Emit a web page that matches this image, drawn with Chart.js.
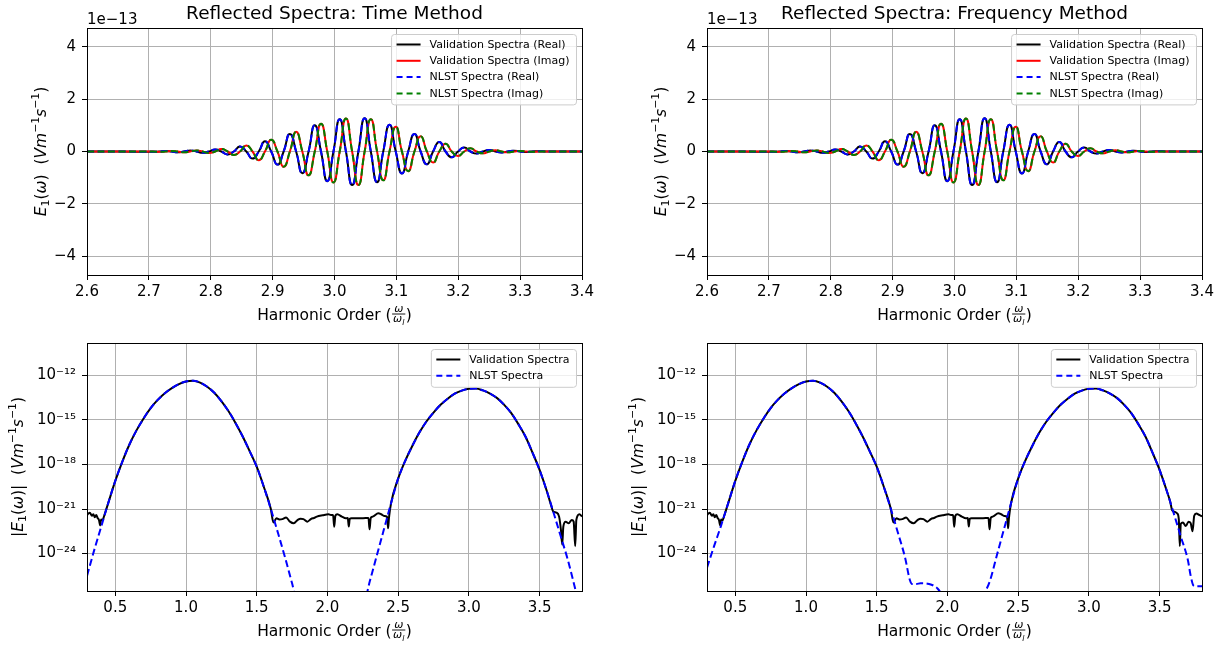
<!DOCTYPE html>
<html>
<head>
<meta charset="utf-8">
<script src="https://cdn.jsdelivr.net/npm/chart.js@4.4.1/dist/chart.umd.min.js"></script>
<style>
html,body{margin:0;padding:0;background:#fff;}
body{width:1225px;height:647px;position:relative;overflow:hidden;}
canvas{position:absolute;}
</style>
</head>
<body>
<canvas id="c1" width="612" height="330" style="left:0px;top:0px"></canvas>
<canvas id="c2" width="605" height="330" style="left:620px;top:0px"></canvas>
<canvas id="c3" width="612" height="332" style="left:0px;top:315px"></canvas>
<canvas id="c4" width="605" height="332" style="left:620px;top:315px"></canvas>
<script>
// ---------------- DATA (top panels, units of 1e-13) ----------------
const harmonicX = [2.6, 2.65, 2.7065, 2.7166, 2.7266, 2.7367, 2.7468, 2.7568, 2.7669, 2.7770, 2.7870, 2.7971,
  2.8071, 2.8172, 2.8273, 2.8373, 2.8474, 2.8575, 2.8675, 2.8776, 2.8876, 2.8977, 2.9078, 2.9178,
  2.9279, 2.9380, 2.9480, 2.9581, 2.9681, 2.9782, 2.9883, 2.9983, 3.0084, 3.0185, 3.0285, 3.0386,
  3.0487, 3.0587, 3.0688, 3.0788, 3.0889, 3.0990, 3.1090, 3.1191, 3.1292, 3.1392, 3.1493, 3.1593,
  3.1694, 3.1795, 3.1895, 3.1996, 3.2097, 3.2197, 3.2298, 3.2398, 3.2499, 3.2600, 3.2700, 3.2801,
  3.2902, 3.3002, 3.3103, 3.3203, 3.3304, 3.3405, 3.3505, 3.4];
const validationReal = [0, 0,
  -0.01, 0, 0.02, 0, -0.03,
  0, 0.04, 0, -0.05, 0,
  0.08, 0, -0.11, 0, 0.19,
  0, -0.27, 0, 0.39, 0,
  -0.50, 0, 0.67, 0, -0.83,
  0, 1.00, 0, -1.13, 0,
  1.23, 0, -1.28, 0, 1.27,
  0, -1.17, 0, 1.02, 0,
  -0.84, 0, 0.67, 0, -0.49,
  0, 0.36, 0, -0.22, 0,
  0.15, 0, -0.08, 0, 0.06,
  0, -0.04, 0, 0.03, 0,
  -0.02, 0, 0.01, 0, 0,
  0];
const validationImag = [0, 0,
  0, -0.01, 0, 0.02, 0,
  -0.03, 0, 0.04, 0, -0.06,
  0, 0.10, 0, -0.13, 0,
  0.23, 0, -0.33, 0, 0.45,
  0, -0.58, 0, 0.75, 0,
  -0.91, 0, 1.06, 0, -1.18,
  0, 1.26, 0, -1.28, 0,
  1.23, 0, -1.10, 0, 0.94,
  0, -0.75, 0, 0.58, 0,
  -0.42, 0, 0.30, 0, -0.17,
  0, 0.12, 0, -0.07, 0,
  0.05, 0, -0.03, 0, 0.02,
  0, -0.01, 0, 0, 0,
  0];
// NLST reconstruction overlays the validation spectra in the picture
const nlstReal = validationReal;
const nlstImag = validationImag;

// ---------------- DATA (bottom panels, log10 of |E1|) ----------------
const valLeftNoiseX   = [0.30, 0.31, 0.32, 0.335, 0.345, 0.355, 0.365, 0.375, 0.385, 0.393, 0.40, 0.41, 0.42];
const valLeftNoiseLog = [-21.4, -21.3, -21.25, -21.45, -21.35, -21.55, -21.4, -21.6, -21.75, -22.1, -21.7, -21.75, -21.5];

const hump1CoreX   = [0.45, 0.50, 0.55, 0.60, 0.65, 0.70, 0.75, 0.80, 0.85, 0.90, 0.95, 1.00, 1.05, 1.10, 1.15, 1.20, 1.25, 1.30, 1.35, 1.40, 1.45, 1.50, 1.55, 1.60];
const hump1CoreLog = [-20.6, -19.1, -17.8, -16.65, -15.7, -14.9, -14.2, -13.65, -13.2, -12.85, -12.58, -12.41, -12.36, -12.48, -12.76, -13.17, -13.73, -14.4, -15.2, -16.1, -17.1, -18.15, -19.5, -21.0];

const valMidNoiseX   = [1.618, 1.64, 1.66, 1.681, 1.708, 1.735, 1.762, 1.79, 1.81, 1.83, 1.858, 1.885, 1.905, 1.925, 1.966, 2.007, 2.025, 2.04, 2.048, 2.056, 2.07, 2.102, 2.13, 2.144, 2.151, 2.158, 2.17, 2.211, 2.252, 2.29, 2.298, 2.306, 2.32, 2.36, 2.38, 2.401, 2.421, 2.429, 2.435];
const valMidNoiseLog = [-21.91, -21.62, -21.7, -21.68, -21.57, -21.85, -21.96, -21.73, -21.65, -21.68, -21.85, -21.66, -21.6, -21.51, -21.42, -21.35, -21.4, -21.4, -22.2, -21.45, -21.35, -21.51, -21.62, -21.6, -22.18, -21.65, -21.62, -21.62, -21.62, -21.6, -22.36, -21.6, -21.51, -21.28, -21.35, -21.46, -21.5, -22.29, -21.6];

const hump2CoreX   = [2.45, 2.50, 2.55, 2.60, 2.65, 2.70, 2.75, 2.80, 2.85, 2.90, 2.95, 3.00, 3.05, 3.10, 3.15, 3.20, 3.25, 3.30, 3.35, 3.40, 3.45, 3.50, 3.55];
const hump2CoreLog = [-20.6, -18.95, -17.75, -16.75, -15.85, -15.1, -14.5, -13.98, -13.57, -13.23, -13.02, -12.9, -12.88, -13.01, -13.22, -13.53, -13.98, -14.54, -15.28, -16.11, -17.2, -18.36, -19.75];

const valRightTimeX   = [3.58, 3.597, 3.619, 3.638, 3.651, 3.66, 3.668, 3.684, 3.706, 3.728, 3.741, 3.752, 3.76, 3.782, 3.80];
const valRightTimeLog = [-20.7, -21.17, -21.24, -21.51, -22.4, -23.4, -22.18, -21.85, -21.96, -21.73, -21.85, -23.5, -21.73, -21.35, -21.5];
const valRightFreqX   = [3.575, 3.59, 3.61, 3.625, 3.636, 3.643, 3.65, 3.665, 3.685, 3.705, 3.72, 3.733, 3.745, 3.76, 3.78, 3.80];
const valRightFreqLog = [-20.5, -21.1, -21.2, -21.3, -21.7, -23.5, -22.0, -21.9, -22.15, -21.85, -21.95, -22.5, -21.45, -21.3, -21.4, -21.5];

const nlstLeftTimeX   = [0.30, 0.35, 0.40];
const nlstLeftTimeLog = [-25.5, -23.8, -22.2];
const nlstMidTimeX    = [1.65, 1.70, 1.75, 1.80, 2.25, 2.30, 2.35, 2.40];
const nlstMidTimeLog  = [-22.6, -24.25, -26.0, -27.8, -27.5, -25.85, -24.1, -22.35];
const nlstRightTimeX   = [3.60, 3.65, 3.70, 3.75, 3.80];
const nlstRightTimeLog = [-21.28, -22.85, -24.43, -26.3, -28.2];

const nlstLeftFreqX   = [0.30, 0.35, 0.40];
const nlstLeftFreqLog = [-24.95, -23.5, -22.1];
const nlstMidFreqX    = [1.65, 1.70, 1.735, 1.75, 1.78, 1.81, 1.84, 1.87, 1.90, 1.93, 1.96, 2.0, 2.2, 2.25, 2.30, 2.35, 2.40];
const nlstMidFreqLog  = [-22.6, -24.25, -25.8, -26.05, -26.05, -26.0, -26.0, -26.05, -26.15, -26.35, -26.8, -28, -28, -26.9, -25.85, -24.1, -22.35];
const nlstRightFreqX   = [3.60, 3.65, 3.70, 3.72, 3.74, 3.76, 3.80];
const nlstRightFreqLog = [-21.28, -22.85, -24.43, -25.5, -26.15, -26.2, -26.2];

// ---------------- TICKS ----------------
const topXTicks = [2.6, 2.7, 2.8, 2.9, 3.0, 3.1, 3.2, 3.3, 3.4];
const topYTicks = [-4, -2, 0, 2, 4];
const bottomXTicks = [0.5, 1.0, 1.5, 2.0, 2.5, 3.0, 3.5];
const bottomYTickExps = [-24, -21, -18, -15, -12];

// ---------------- RENDERING ----------------
Chart.defaults.font.family = "'DejaVu Sans', sans-serif";
Chart.defaults.color = '#000';
const FAM = '"DejaVu Sans", sans-serif';
const SUP = {'-':'⁻','0':'⁰','1':'¹','2':'²','3':'³','4':'⁴','5':'⁵','6':'⁶','7':'⁷','8':'⁸','9':'⁹'};

function segFont(s, base){ return (s.it ? 'italic ' : '') + (base*(s.s||1)).toFixed(2) + 'px ' + FAM; }
function richWidth(ctx, segs, base){ let w=0; for(const s of segs){ ctx.font=segFont(s,base); w+=ctx.measureText(s.t).width; } return w; }
function drawRich(ctx, segs, x, y, base){
  let cx=x;
  for(const s of segs){ ctx.font=segFont(s,base); ctx.fillText(s.t, cx, y+(s.dy||0)*base); cx+=ctx.measureText(s.t).width; }
}
const unitSegs = [{t:'  ('},{t:'V',it:1},{t:'m',it:1},{t:'−1',s:0.7,dy:-0.45},{t:'s',it:1},{t:'−1',s:0.7,dy:-0.45},{t:')'}];
const yLabelTop = [{t:'E',it:1},{t:'1',s:0.7,dy:0.2},{t:'('},{t:'ω',it:1},{t:')'}].concat(unitSegs);
const yLabelBottom = [{t:'|'},{t:'E',it:1},{t:'1',s:0.7,dy:0.2},{t:'('},{t:'ω',it:1},{t:')'},{t:'|'}].concat(unitSegs);

function drawXLabel(ctx, cx, by, base){
  const f=(it,s)=>(it?'italic ':'')+(base*s).toFixed(2)+'px '+FAM;
  ctx.font=f(0,1); const t1='Harmonic Order ('; const w1=ctx.measureText(t1).width; const wR=ctx.measureText(')').width;
  ctx.font=f(1,0.7); const wNum=ctx.measureText('ω').width;
  ctx.font=f(1,0.5); const wSub=ctx.measureText('l').width;
  const fw=Math.max(wNum, wNum+wSub)+3;
  let x=cx-(w1+fw+wR)/2;
  ctx.font=f(0,1); ctx.fillText(t1,x,by); x+=w1;
  const barY=by-0.39*base;
  ctx.fillRect(x+0.5, barY-0.4, fw-1, 0.9);
  ctx.font=f(1,0.7); ctx.fillText('ω', x+(fw-wNum)/2, barY-2);
  const dx=x+(fw-(wNum+wSub))/2;
  ctx.fillText('ω', dx, barY+0.52*base);
  ctx.font=f(1,0.5); ctx.fillText('l', dx+wNum, barY+0.52*base+2.5);
  x+=fw;
  ctx.font=f(0,1); ctx.fillText(')',x,by);
}

const decorPlugin = {
  id:'decor',
  afterDatasetsDraw(chart){
    const o=chart.options.plugins.decor, a=chart.chartArea, ctx=chart.ctx;
    ctx.save();
    ctx.strokeStyle='#000'; ctx.lineWidth=1; ctx.setLineDash([]);
    ctx.strokeRect(Math.round(a.left)+0.5, Math.round(a.top)+0.5, Math.round(a.right)-Math.round(a.left), Math.round(a.bottom)-Math.round(a.top));
    // legend
    const items=o.legend, fs=11, rowH=16.3;
    ctx.font=fs+'px '+FAM;
    let tw=0; for(const it of items) tw=Math.max(tw, ctx.measureText(it.label).width);
    const boxW=5+24+9+tw+7, boxH=10+(items.length-1)*rowH+11.5;
    const bx=a.right-5.5-boxW, by=a.top+6.5;
    ctx.beginPath();
    if (ctx.roundRect) ctx.roundRect(bx,by,boxW,boxH,3); else ctx.rect(bx,by,boxW,boxH);
    ctx.fillStyle='rgba(255,255,255,0.8)'; ctx.fill();
    ctx.strokeStyle='#cccccc'; ctx.lineWidth=1; ctx.stroke();
    items.forEach((it,i)=>{
      const yy=by+10+i*rowH;
      ctx.beginPath(); ctx.strokeStyle=it.color; ctx.lineWidth=2; ctx.setLineDash(it.dash||[]);
      ctx.moveTo(bx+5,yy); ctx.lineTo(bx+29,yy); ctx.stroke(); ctx.setLineDash([]);
      ctx.fillStyle='#000'; ctx.textAlign='left'; ctx.textBaseline='middle'; ctx.font=fs+'px '+FAM;
      ctx.fillText(it.label, bx+38, yy+0.5);
    });
    ctx.restore();
  },
  afterDraw(chart){
    const o=chart.options.plugins.decor, a=chart.chartArea, ctx=chart.ctx;
    ctx.save();
    ctx.fillStyle='#000'; ctx.textBaseline='alphabetic';
    const cx=(a.left+a.right)/2, cy=(a.top+a.bottom)/2;
    if(o.title){ ctx.font='18.5px '+FAM; ctx.textAlign='center'; ctx.fillText(o.title, cx, a.top-9); }
    if(o.offsetText){ ctx.font='15px '+FAM; ctx.textAlign='left'; ctx.fillText(o.offsetText, a.left, a.top-4.4); }
    ctx.textAlign='left';
    drawXLabel(ctx, cx, a.bottom+45, 15.5);
    ctx.save();
    ctx.translate(a.left-o.yLabelOffset, cy); ctx.rotate(-Math.PI/2);
    const w=richWidth(ctx,o.yLabel,15.5);
    drawRich(ctx,o.yLabel,-w/2,0,15.5);
    ctx.restore();
    ctx.restore();
  }
};

function makeChart(id, cfg){
  const gridOpts={color:'#b0b0b0', lineWidth:1, tickColor:'#000', tickLength:5, tickWidth:1, drawTicks:true};
  return new Chart(document.getElementById(id), {
    type:'line',
    data:{datasets:cfg.datasets},
    options:{
      responsive:false, animation:false, events:[],
      layout:{padding:cfg.pad},
      plugins:{legend:{display:false}, tooltip:{enabled:false}, title:{display:false}, decor:cfg.decor},
      scales:{
        x:{type:'linear', min:cfg.xMin, max:cfg.xMax,
           afterBuildTicks:s=>{ s.ticks=cfg.xTicks.map(v=>({value:v})); },
           afterFit:s=>{ s.height=cfg.xHeight; },
           grid:gridOpts, border:{display:false},
           ticks:{color:'#000', font:{size:15}, padding:3, maxRotation:0, autoSkip:false, callback:v=>Number(v).toFixed(1)}},
        y:{type:cfg.yType, min:cfg.yMin, max:cfg.yMax,
           afterBuildTicks:s=>{ s.ticks=cfg.yTicks.map(v=>({value:v})); },
           afterFit:s=>{ s.width=87; },
           grid:gridOpts, border:{display:false},
           ticks:{color:'#000', font:{size:15}, padding:6, autoSkip:false, callback:cfg.yFmt}}
      }
    },
    plugins:[decorPlugin]
  });
}

const dashB=[7,3.5];
function topDatasets(){
  const pts=arr=>harmonicX.map((x,i)=>({x:x, y:arr[i]}));
  return [
    {label:'Validation Spectra (Real)', data:pts(validationReal), borderColor:'#000000', order:4},
    {label:'Validation Spectra (Imag)', data:pts(validationImag), borderColor:'#ff0000', order:3},
    {label:'NLST Spectra (Real)', data:pts(nlstReal), borderColor:'#0000ff', borderDash:dashB, order:2},
    {label:'NLST Spectra (Imag)', data:pts(nlstImag), borderColor:'#008000', borderDash:dashB, order:1}
  ].map(d=>Object.assign(d,{borderWidth:2, pointRadius:0, tension:0.55, fill:false}));
}
const topLegend=[
  {label:'Validation Spectra (Real)', color:'#000000'},
  {label:'Validation Spectra (Imag)', color:'#ff0000'},
  {label:'NLST Spectra (Real)', color:'#0000ff', dash:[6,4]},
  {label:'NLST Spectra (Imag)', color:'#008000', dash:[6,4]}
];
const bottomLegend=[
  {label:'Validation Spectra', color:'#000000'},
  {label:'NLST Spectra', color:'#0000ff', dash:[6,4]}
];
const linFmt=v=>(v<0?'−':'')+Math.abs(v);
const logFmt=v=>{ const e=Math.round(Math.log10(v)); return '10'+String(e).split('').map(c=>SUP[c]||c).join(''); };

function logPts(xs, es){ return xs.map((x,i)=>({x:x, y:Math.pow(10, es[i])})); }
function bottomDatasets(valX, valL, nX, nL){
  return [
    {label:'Validation Spectra', data:logPts(valX,valL), borderColor:'#000000', order:2},
    {label:'NLST Spectra', data:logPts(nX,nL), borderColor:'#0000ff', borderDash:dashB, order:1}
  ].map(d=>Object.assign(d,{borderWidth:2, pointRadius:0, cubicInterpolationMode:'monotone', fill:false}));
}

const valTimeX = [].concat(valLeftNoiseX, hump1CoreX, valMidNoiseX, hump2CoreX, valRightTimeX);
const valTimeL = [].concat(valLeftNoiseLog, hump1CoreLog, valMidNoiseLog, hump2CoreLog, valRightTimeLog);
const valFreqX = [].concat(valLeftNoiseX, hump1CoreX, valMidNoiseX, hump2CoreX, valRightFreqX);
const valFreqL = [].concat(valLeftNoiseLog, hump1CoreLog, valMidNoiseLog, hump2CoreLog, valRightFreqLog);
const nlstTimeX = [].concat(nlstLeftTimeX, hump1CoreX, nlstMidTimeX, hump2CoreX, nlstRightTimeX);
const nlstTimeL = [].concat(nlstLeftTimeLog, hump1CoreLog, nlstMidTimeLog, hump2CoreLog, nlstRightTimeLog);
const nlstFreqX = [].concat(nlstLeftFreqX, hump1CoreX, nlstMidFreqX, hump2CoreX, nlstRightFreqX);
const nlstFreqL = [].concat(nlstLeftFreqLog, hump1CoreLog, nlstMidFreqLog, hump2CoreLog, nlstRightFreqLog);

const topCommon={xMin:2.6, xMax:3.4, xTicks:topXTicks, yType:'linear', yMin:-4.71, yMax:4.71, yTicks:topYTicks, yFmt:linFmt, xHeight:55};
const botCommon={xMin:0.3, xMax:3.8, xTicks:bottomXTicks, yType:'logarithmic', yMin:Math.pow(10,-26.52), yMax:Math.pow(10,-9.815), yTicks:bottomYTickExps.map(e=>Math.pow(10,e)), yFmt:logFmt, xHeight:56};

makeChart('c1', Object.assign({}, topCommon, {datasets:topDatasets(), pad:{left:0,top:28,right:30,bottom:0},
  decor:{title:'Reflected Spectra: Time Method', offsetText:'1e−13', legend:topLegend, yLabel:yLabelTop, yLabelOffset:41.3}}));
makeChart('c2', Object.assign({}, topCommon, {datasets:topDatasets(), pad:{left:0,top:28,right:23,bottom:0},
  decor:{title:'Reflected Spectra: Frequency Method', offsetText:'1e−13', legend:topLegend, yLabel:yLabelTop, yLabelOffset:41.3}}));
makeChart('c3', Object.assign({}, botCommon, {datasets:bottomDatasets(valTimeX,valTimeL,nlstTimeX,nlstTimeL), pad:{left:0,top:28,right:30,bottom:0},
  decor:{legend:bottomLegend, yLabel:yLabelBottom, yLabelOffset:63.8}}));
makeChart('c4', Object.assign({}, botCommon, {datasets:bottomDatasets(valFreqX,valFreqL,nlstFreqX,nlstFreqL), pad:{left:0,top:28,right:23,bottom:0},
  decor:{legend:bottomLegend, yLabel:yLabelBottom, yLabelOffset:63.8}}));
</script>
</body>
</html>
